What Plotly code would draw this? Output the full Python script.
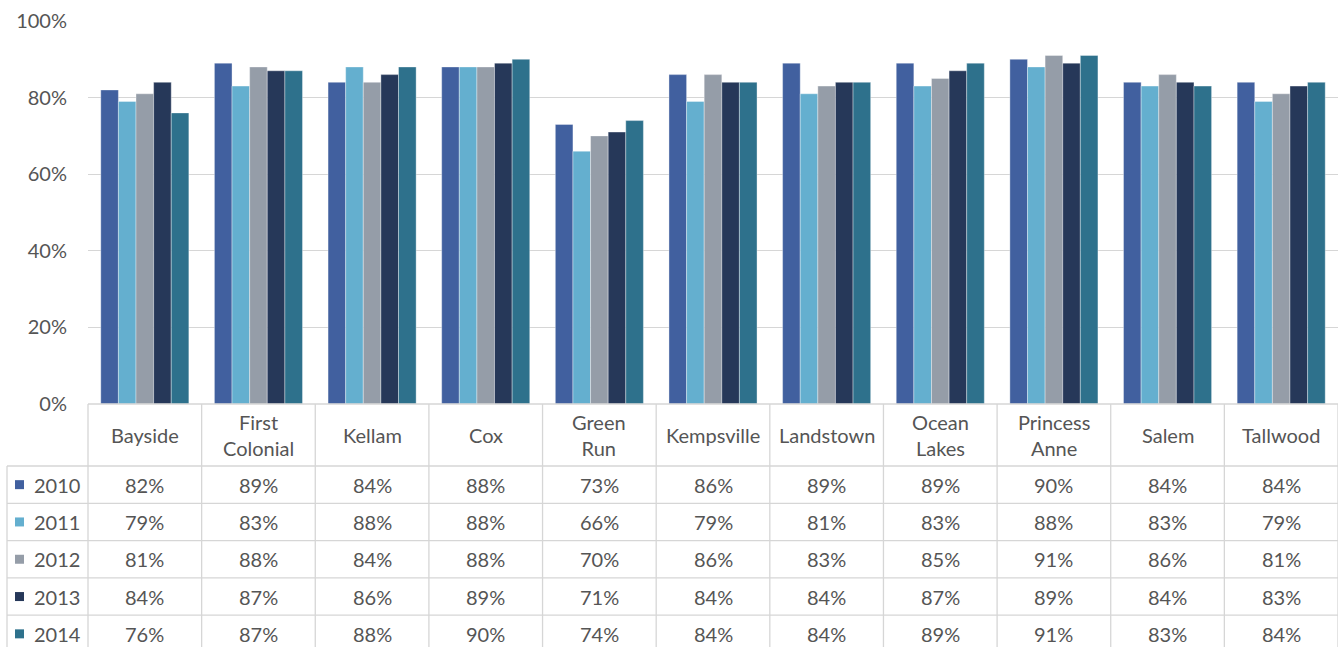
import plotly.graph_objects as go

schools = ["Bayside", "First<br>Colonial", "Kellam", "Cox", "Green<br>Run", "Kempsville",
           "Landstown", "Ocean<br>Lakes", "Princess<br>Anne", "Salem", "Tallwood"]
years = ["2010", "2011", "2012", "2013", "2014"]
rates = {
    "2010": [82, 89, 84, 88, 73, 86, 89, 89, 90, 84, 84],
    "2011": [79, 83, 88, 88, 66, 79, 81, 83, 88, 83, 79],
    "2012": [81, 88, 84, 88, 70, 86, 83, 85, 91, 86, 81],
    "2013": [84, 87, 86, 89, 71, 84, 84, 87, 89, 84, 83],
    "2014": [76, 87, 88, 90, 74, 84, 84, 89, 91, 83, 84],
}
colors = {"2010": "#41609F", "2011": "#64AFCF", "2012": "#959DA8",
          "2013": "#263859", "2014": "#2E718C"}
y_ticks = [0, 20, 40, 60, 80, 100]
y_tick_text = ["0%", "20%", "40%", "60%", "80%", "100%"]

W, H = 1338, 647
ML, MR, MT, MB = 88, 0, 21, 243
plot_w = W - ML - MR
plot_h = H - MT - MB
FONT = "Lato, 'Open Sans', sans-serif"
TXT = "#555555"
LINE = "#D6D6D6"

n = len(schools)
xs = list(range(n))

fig = go.Figure()
for yr in years:
    fig.add_trace(go.Bar(
        x=xs, y=rates[yr], name=yr,
        marker=dict(color=colors[yr], line=dict(color="rgba(255,255,255,0.45)", width=0.8)),
        showlegend=False, hoverinfo="y+name",
    ))


def py(px):
    """pixel row from the top of the figure -> paper y"""
    return (H - MB - px) / plot_h


def pxx(px):
    """pixel column -> paper x"""
    return (px - ML) / plot_w


shapes = []
annotations = []

# data table geometry (pixels measured from the axis baseline)
header_h = 62
row_h = 37.3
left_edge = pxx(7)
base = H - MB
row_tops = [base + header_h + i * row_h for i in range(len(years) + 1)]

# horizontal rules
shapes.append(dict(type="line", xref="paper", yref="paper", x0=0, x1=1,
                   y0=py(base), y1=py(base), line=dict(color=LINE, width=1.3)))
for t in row_tops:
    shapes.append(dict(type="line", xref="paper", yref="paper", x0=left_edge, x1=1,
                       y0=py(t), y1=py(t), line=dict(color=LINE, width=1.3)))
# vertical rules
bottom = py(H + 10)
for i in range(n + 1):
    shapes.append(dict(type="line", xref="paper", yref="paper", x0=i / n, x1=i / n,
                       y0=py(base), y1=bottom, line=dict(color=LINE, width=1.3)))
shapes.append(dict(type="line", xref="paper", yref="paper", x0=left_edge, x1=left_edge,
                   y0=py(row_tops[0]), y1=bottom, line=dict(color=LINE, width=1.3)))

# header: school names
for i, s in enumerate(schools):
    annotations.append(dict(xref="paper", yref="paper", x=(i + 0.5) / n,
                            y=py(base + header_h / 2), text=s, showarrow=False,
                            font=dict(family=FONT, size=20, color=TXT),
                            xanchor="center", yanchor="middle"))

# value rows with legend keys
for r, yr in enumerate(years):
    cy = row_tops[r] + row_h / 2
    shapes.append(dict(type="rect", xref="paper", yref="paper",
                       x0=pxx(15), x1=pxx(24), y0=py(cy - 4.5), y1=py(cy + 4.5),
                       fillcolor=colors[yr], line=dict(width=0)))
    annotations.append(dict(xref="paper", yref="paper", x=pxx(32), y=py(cy),
                            text=yr, showarrow=False, xanchor="left", yanchor="middle",
                            font=dict(family=FONT, size=20, color=TXT)))
    for i, v in enumerate(rates[yr]):
        annotations.append(dict(xref="paper", yref="paper", x=(i + 0.5) / n, y=py(cy),
                                text=f"{v}%", showarrow=False,
                                xanchor="center", yanchor="middle",
                                font=dict(family=FONT, size=20, color=TXT)))

fig.update_layout(
    width=W, height=H,
    margin=dict(l=ML, r=MR, t=MT, b=MB, pad=0),
    paper_bgcolor="white", plot_bgcolor="white",
    barmode="group", bargap=0.225, bargroupgap=0,
    font=dict(family=FONT, size=20, color=TXT),
    xaxis=dict(range=[-0.5, n - 0.5], showticklabels=False, showgrid=False,
               zeroline=False, showline=False, ticks=""),
    yaxis=dict(range=[0, 100], tickmode="array", tickvals=y_ticks, ticktext=y_tick_text,
               showgrid=True, gridcolor=LINE, gridwidth=1.3,
               zeroline=False, showline=False, ticks="", ticklabelstandoff=20,
               tickfont=dict(family=FONT, size=20, color=TXT)),
    shapes=shapes, annotations=annotations,
)

fig.write_html("out.html")
